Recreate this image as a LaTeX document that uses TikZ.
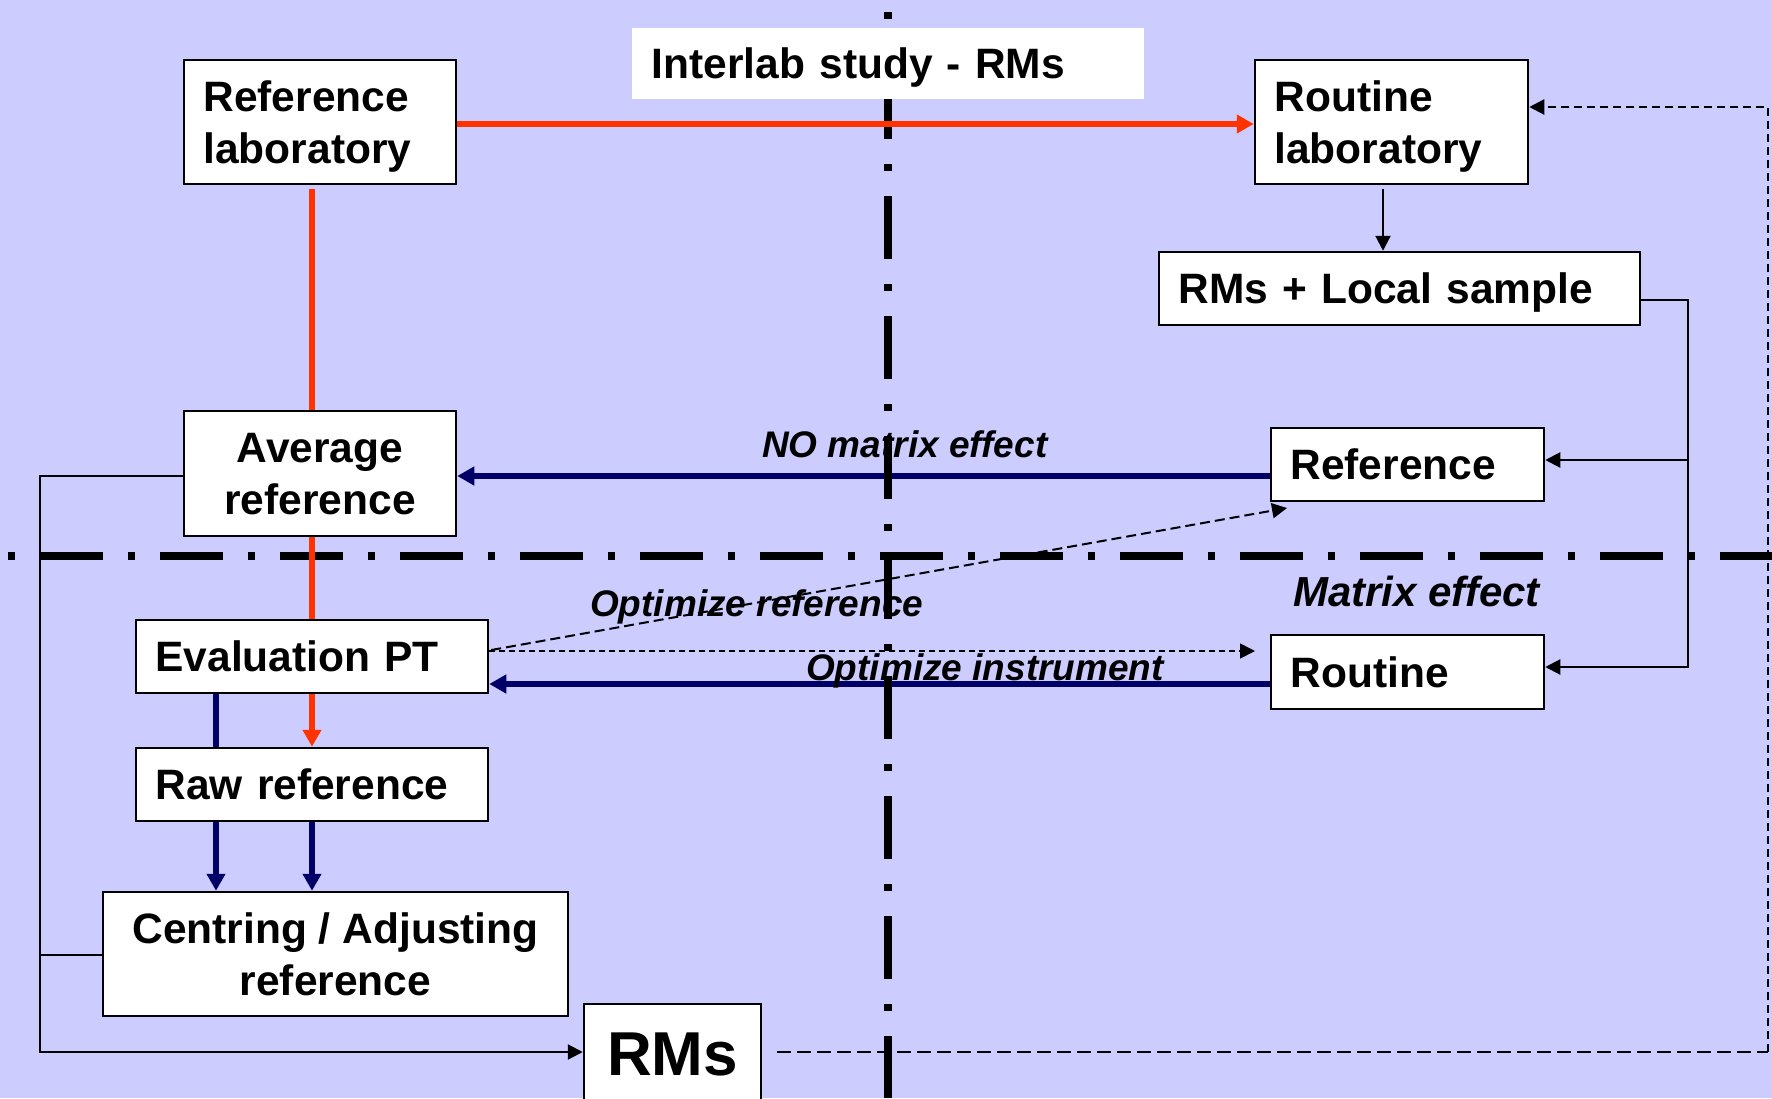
\documentclass[tikz,border=0pt]{standalone}
\usepackage{fontspec}
\setmainfont{Liberation Sans}
\usetikzlibrary{arrows.meta,calc}
\definecolor{bgc}{RGB}{204,204,255}
\definecolor{redc}{RGB}{255,51,0}
\definecolor{navyc}{RGB}{0,0,102}
\newcommand\myboxfont{\fontsize{42.5pt}{52pt}\selectfont\bfseries}
\newcommand\mylabfont{\fontsize{37pt}{44pt}\selectfont\bfseries\itshape}
\newcommand\mymatfont{\fontsize{42pt}{50pt}\selectfont\bfseries\itshape}
\newcommand\mybigfont{\fontsize{62pt}{74pt}\selectfont\bfseries}
\newcommand\lstrut{\rule[-11pt]{0pt}{52pt}}
\tikzset{
  box/.style={draw=black, line width=2.5pt, fill=white, inner ysep=0pt, font=\myboxfont},
  lbox/.style={box, align=left, inner xsep=19.5pt},
  cbox/.style={box, align=center, inner xsep=0pt},
  redline/.style={draw=redc, line width=6pt},
  blueline/.style={draw=navyc, line width=5.5pt},
  thinline/.style={draw=black, line width=2.2pt},
  bigarr/.style={-{Triangle[length=17pt,width=18pt]}},
  smallarr/.style={-{Triangle[length=15pt,width=15pt]}},
  sepline/.style={draw=black, line width=8pt, dash pattern=on 63pt off 25pt on 7pt off 25pt},
  lab/.style={anchor=base west, inner sep=0pt, font=\mylabfont}
}
\begin{document}
\begin{tikzpicture}[x=1pt,y=-1pt]
\fill[bgc] (0,0) rectangle (1772,1098);
\useasboundingbox (0,0) rectangle (1772,1098);
\clip (0,0) rectangle (1772,1098);

% helper coordinates
\coordinate (rx) at (312,0);
\coordinate (bx) at (216,0);
\coordinate (tx) at (1383,0);
\coordinate (rxx) at (1688,0);
\coordinate (lx) at (40,0);
\coordinate (dx) at (1768,0);
\coordinate (yr) at (0,124);
\coordinate (y107) at (0,107);
\coordinate (y300) at (0,300);
\coordinate (y460) at (0,460);
\coordinate (yb1) at (0,476);
\coordinate (y667) at (0,667);
\coordinate (yb2) at (0,684);
\coordinate (y651) at (0,651);
\coordinate (y955) at (0,955);
\coordinate (y1052) at (0,1052);
\coordinate (dTip1) at (1255,651);
\coordinate (dTip2) at (1287,508);
\coordinate (corner) at (1768,1052);

% boxes (placed first so anchors exist; drawn again on top later)
\begin{scope}[opacity=0]
\node[lbox, text width=233pt, minimum width=272pt, minimum height=124pt] (refLab) at (320,122) {\lstrut Reference\\\lstrut laboratory};
\node[lbox, text width=234pt, minimum width=273pt, minimum height=124pt] (routineLab) at (1391.5,122) {\lstrut Routine\\\lstrut laboratory};
\node[lbox, text width=442pt, minimum width=481pt, minimum height=73pt] (rmsLocal) at (1399.5,288.5) {\lstrut RMs + Local sample};
\node[cbox, minimum width=272pt, minimum height=125pt] (avgRef) at (320,473.5) {\lstrut Average\\\lstrut reference};
\node[lbox, text width=234pt, minimum width=273pt, minimum height=73pt] (refR) at (1407.5,464.5) {\lstrut Reference};
\node[lbox, text width=313pt, minimum width=352pt, minimum height=73pt] (evalPT) at (312,656.5) {\lstrut Evaluation PT};
\node[lbox, text width=234pt, minimum width=273pt, minimum height=74pt] (routineM) at (1407.5,672) {\lstrut Routine};
\node[lbox, text width=313pt, minimum width=352pt, minimum height=73pt] (rawRef) at (312,784.5) {\lstrut Raw reference};
\node[cbox, minimum width=465pt, minimum height=124pt] (centring) at (335.5,954) {\lstrut Centring / Adjusting\\\lstrut reference};
\node[cbox, font=\mybigfont, text height=44.5pt, text depth=0pt, minimum width=177pt, minimum height=99pt] (rms) at (672.5,1053.5) {RMs};
\end{scope}

% blue connectors
\draw[blueline, bigarr] (refR.west |- yb1) -- (avgRef.east |- yb1);
\draw[blueline, bigarr] (routineM.west |- yb2) -- (evalPT.east |- yb2);
\draw[blueline] (evalPT.south -| bx) -- (rawRef.north -| bx);
\draw[blueline, bigarr] (rawRef.south -| bx) -- (centring.north -| bx);
\draw[blueline, bigarr] ($(rawRef.south -| rx)+(0,-10)$) -- (centring.north -| rx);

% thin black connectors
\draw[thinline, smallarr] ($(routineLab.south -| tx)+(0,4)$) -- (rmsLocal.north -| tx);
\draw[thinline, smallarr] (rmsLocal.east |- y300) -- (rxx |- y300) -- (rxx |- y667) -- (routineM.east |- y667);
\draw[thinline, smallarr] (rxx |- y460) -- (refR.east |- y460);
\draw[thinline, smallarr] (avgRef.west |- yb1) -- (lx |- yb1) -- (lx |- y1052) -- (rms.west |- y1052);
\draw[thinline] (centring.west |- y955) -- (lx |- y955);

% labels
\node[lab] (noMatrix) at (762,457) {NO matrix effect};
\node[lab, font=\mymatfont] (matrixEff) at (1293,606) {Matrix effect};
\node[lab] (optRef) at (590,616) {Optimize reference};
\node[lab] (optInstr) at (806,680) {Optimize instrument};

% dashed connectors
\draw[black, line width=2.2pt, dash pattern=on 14pt off 6pt] ($(rms.east |- y1052)+(15,0)$) -- (corner);
\draw[black, line width=2.2pt, dash pattern=on 8pt off 5pt, smallarr] (corner) -- (dx |- y107) -- (routineLab.east |- y107);
\draw[black, line width=1.6pt, dash pattern=on 6pt off 4pt, smallarr] (evalPT.east |- y651) -- (dTip1);
\draw[black, line width=2pt, dash pattern=on 10pt off 5pt, smallarr] ($(evalPT.east |- y651)+(2,-1)$) -- (dTip2);

% dash-dot separators
\draw[sepline, dash phase=80pt] (0,556) -- (1772,556);
\draw[sepline, dash phase=56pt] (888,12) -- (888,1098);

% red connectors
\draw[redline, bigarr] (refLab.east |- yr) -- (routineLab.west |- yr);
\draw[redline] ($(refLab.south -| rx)+(0,4)$) -- (avgRef.north -| rx);
\draw[redline] (avgRef.south -| rx) -- (evalPT.north -| rx);
\draw[redline, bigarr] (evalPT.south -| rx) -- (rawRef.north -| rx);

% visible boxes
\node[lbox, text width=233pt, minimum width=272pt, minimum height=124pt] (refLabV) at (refLab) {\lstrut Reference\\\lstrut laboratory};
\node[lbox, text width=234pt, minimum width=273pt, minimum height=124pt] (routineLabV) at (routineLab) {\lstrut Routine\\\lstrut laboratory};
\node[lbox, text width=442pt, minimum width=481pt, minimum height=73pt] (rmsLocalV) at (rmsLocal) {\lstrut RMs + Local sample};
\node[cbox, minimum width=272pt, minimum height=125pt] (avgRefV) at (avgRef) {\lstrut Average\\\lstrut reference};
\node[lbox, text width=234pt, minimum width=273pt, minimum height=73pt] (refRV) at (refR) {\lstrut Reference};
\node[lbox, text width=313pt, minimum width=352pt, minimum height=73pt] (evalPTV) at (evalPT) {\lstrut Evaluation PT};
\node[lbox, text width=234pt, minimum width=273pt, minimum height=74pt] (routineMV) at (routineM) {\lstrut Routine};
\node[lbox, text width=313pt, minimum width=352pt, minimum height=73pt] (rawRefV) at (rawRef) {\lstrut Raw reference};
\node[cbox, minimum width=465pt, minimum height=124pt] (centringV) at (centring) {\lstrut Centring / Adjusting\\\lstrut reference};
\node[cbox, font=\mybigfont, text height=44.5pt, text depth=0pt, minimum width=177pt, minimum height=99pt] (rmsV) at (rms) {RMs};
\node[lbox, draw=none, text width=472.5pt, minimum width=512pt, minimum height=71pt] (interlab) at (888,63.5) {\lstrut Interlab study - RMs};
\end{tikzpicture}
\end{document}
